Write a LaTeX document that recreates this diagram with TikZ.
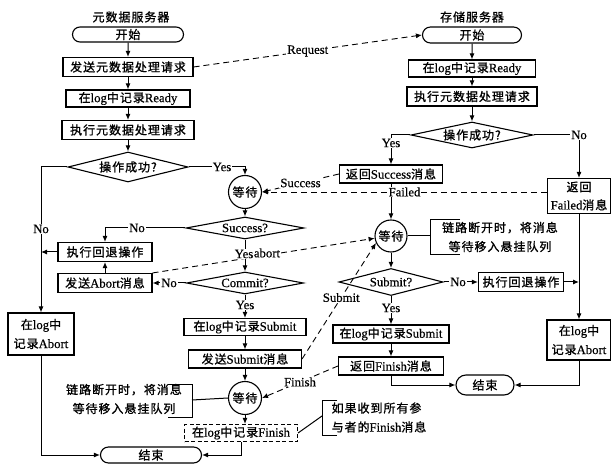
\documentclass[tikz,border=0pt]{standalone}
\usepackage{fontspec}
\setmainfont{Liberation Serif}[Scale=1.06,FakeBold=0.5]
\newfontfamily\cjk[LetterSpace=8,FakeBold=1]{Noto Sans CJK SC}
\newcommand\zh[1]{{\cjk #1}}
\usetikzlibrary{shapes.geometric,shapes.misc,arrows.meta}
\begin{document}
\begin{tikzpicture}[x=1pt,y=-1pt,font=\fontsize{12}{14}\selectfont,
  box/.style={draw,line width=1.1pt,inner sep=1pt,align=center},
  dbox/.style={box,dashed,dash pattern=on 4pt off 2.5pt},
  term/.style={draw,rounded rectangle,line width=1.1pt,inner sep=1pt},
  dia/.style={draw,diamond,line width=1.1pt,inner sep=0pt},
  waitc/.style={draw,circle,line width=1.1pt,inner sep=0pt,minimum size=33pt},
  flow/.style={line width=1pt,-{Latex[length=6pt,width=5pt]}},
  msg/.style={line width=0.9pt,dash pattern=on 6pt off 4pt,-{Latex[length=6pt,width=5pt]}},
  plain/.style={line width=1pt},
  lbl/.style={fill=white,inner sep=1pt},
  note/.style={align=center,font=\fontsize{12}{19}\selectfont}]
\useasboundingbox (0,0) rectangle (611,465);
\fill[white] (0,0) rectangle (611,465);

% ---------- left column: metadata server ----------
\node (tL) at (131,17) {\zh{元数据服务器}};
\node[term,minimum width=113pt,minimum height=15pt] (startL) at (128,34.5) {\zh{开始}};
\node[box,minimum width=130pt,minimum height=19pt] (sendL) at (128,67) {\zh{发送元数据处理请求}};
\node[box,minimum width=124pt,minimum height=17pt] (readyL) at (128,98.5) {\zh{在}log\zh{中记录}Ready};
\node[box,minimum width=132pt,minimum height=19pt] (execL) at (128,130) {\zh{执行元数据处理请求}};
\node[dia,minimum width=120pt,minimum height=30pt,aspect=4] (opL) at (128,167) {\zh{操作成功?}};
\node[waitc] (waitL1) at (245,192) {\zh{等待}};
\node[dia,minimum width=118pt,minimum height=22pt,aspect=5.4] (succQ) at (245,228) {Success?};
\node[box,minimum width=94pt,minimum height=19pt] (rollL) at (105,252) {\zh{执行回退操作}};
\node[dia,minimum width=117pt,minimum height=22pt,aspect=5.3] (commitQ) at (245,283) {Commit?};
\node[box,minimum width=94pt,minimum height=19pt] (abortL) at (105,283) {\zh{发送}Abort\zh{消息}};
\node[box,minimum width=66pt,minimum height=42pt,font=\fontsize{12}{19}\selectfont] (logAbortL) at (41,334) {\zh{在}log\zh{中}\\\zh{记录}Abort};
\node[box,minimum width=122pt,minimum height=17pt] (logSubL) at (245,327) {\zh{在}log\zh{中记录}Submit};
\node[box,minimum width=113pt,minimum height=18pt] (sendSubL) at (245,359) {\zh{发送}Submit\zh{消息}};
\node[waitc] (waitL2) at (245,398) {\zh{等待}};
\node[dbox,minimum width=113pt,minimum height=17pt] (finL) at (241,433) {\zh{在}log\zh{中记录}Finish};
\node[term,minimum width=103pt,minimum height=16pt] (endL) at (151,455) {\zh{结束}};

% ---------- right column: storage server ----------
\node (tR) at (472,17) {\zh{存储服务器}};
\node[term,minimum width=101pt,minimum height=16pt] (startR) at (472,35) {\zh{开始}};
\node[box,minimum width=127pt,minimum height=17pt] (readyR) at (472,68.5) {\zh{在}log\zh{中记录}Ready};
\node[box,minimum width=130pt,minimum height=19pt] (execR) at (472,96.5) {\zh{执行元数据处理请求}};
\node[dia,minimum width=122pt,minimum height=26pt,aspect=4.7] (opR) at (472,135) {\zh{操作成功?}};
\node[box,minimum width=103pt,minimum height=18pt] (succR) at (391,174) {\zh{返回}Success\zh{消息}};
\node[box,minimum width=63pt,minimum height=35pt,font=\fontsize{12}{18}\selectfont] (failR) at (579,196) {\zh{返回}\\Failed\zh{消息}};
\node[waitc,minimum size=32pt] (waitR) at (391,236) {\zh{等待}};
\node[dia,minimum width=104pt,minimum height=27pt,aspect=3.9] (subQ) at (391,282) {Submit?};
\node[box,minimum width=85pt,minimum height=19pt] (rollR) at (521,282) {\zh{执行回退操作}};
\node[box,minimum width=64pt,minimum height=40pt,font=\fontsize{12}{19}\selectfont] (logAbortR) at (579,340) {\zh{在}log\zh{中}\\\zh{记录}Abort};
\node[box,minimum width=116pt,minimum height=18pt] (logSubR) at (391,334) {\zh{在}log\zh{中记录}Submit};
\node[box,minimum width=105pt,minimum height=18pt] (finR) at (391,366) {\zh{返回}Finish\zh{消息}};
\node[term,minimum width=60pt,minimum height=20pt] (endR) at (485,385) {\zh{结束}};

% ---------- notes ----------
\node[note] (noteL) at (124,399) {\zh{链路断开时，将消息}\\\zh{等待移入悬挂队列}};
\coordinate (noteLbr) at (192,400);
\draw[plain] (168,384) -- (192,384) -- (192,417) -- (168,417);
\draw[plain] (noteLbr) -- (waitL2.west);

\node[note] (noteR) at (500,237) {\zh{链路断开时，将消息}\\\zh{等待移入悬挂队列}};
\coordinate (noteRbr) at (430,236);
\draw[plain] (460,220) -- (430,220) -- (430,255) -- (460,255);
\draw[plain] (waitR.east) -- (noteRbr);

\node[note,align=left] (noteF) at (379,417.5) {\zh{如果收到所有参}\\\zh{与者的}Finish\zh{消息}};
\coordinate (noteFbr) at (322,416);
\draw[plain] (337,400) -- (322,400) -- (322,435) -- (337,435);
\draw[plain] (finL.east) -- (noteFbr);

% ---------- left flow ----------
\draw[flow] (startL) -- (sendL);
\draw[flow] (sendL) -- (readyL);
\draw[flow] (readyL) -- (execL);
\draw[flow] (execL) -- (opL);
\draw[flow] (opL.east) -| (waitL1.north);
\node[lbl] at (222,167) {Yes};
\draw[flow] (waitL1) -- (succQ);
\draw[flow] (succQ.west) -| (rollL.north);
\node[lbl] at (137,228) {No};
\draw[flow] (succQ) -- (commitQ);
\draw[flow] (commitQ.west) -- (abortL.east);
\node[lbl] at (169,283) {No};
\draw[flow] (abortL) -- (rollL);
\draw[flow] (rollL.west) -- (rollL.west -| logAbortL.north);
\draw[flow] (opL.west) -| (logAbortL.north);
\node[lbl] at (41,229) {No};
\draw[flow] (logAbortL.south) |- (endL.west);
\draw[flow] (commitQ) -- (logSubL);
\node[lbl] at (245,305) {Yes};
\draw[flow] (logSubL) -- (sendSubL);
\draw[flow] (sendSubL) -- (waitL2);
\draw[flow] (waitL2.south) -- (waitL2.south |- finL.north);
\draw[plain,-{Latex[length=6pt,width=5pt]}] (finL.south) |- (endL.east);

% ---------- right flow ----------
\draw[flow] (startR) -- (readyR);
\draw[flow] (readyR) -- (execR);
\draw[flow] (execR) -- (opR);
\draw[flow] (opR.west) -| (succR.north);
\node[lbl] at (391,143) {Yes};
\draw[flow] (opR.east) -| (failR.north);
\node[lbl] at (579,135) {No};
\draw[flow] (succR) -- (waitR);
\draw[flow] (waitR) -- (subQ);
\draw[flow] (subQ.east) -- (rollR.west);
\node[lbl] at (458,282) {No};
\draw[flow] (rollR.east) -- (rollR.east -| failR.south);
\draw[flow] (failR.south) -- (logAbortR.north);
\draw[flow] (logAbortR.south) |- (endR.east);
\draw[flow] (subQ) -- (logSubR);
\node[lbl] at (391,308) {Yes};
\draw[flow] (logSubR) -- (finR);
\draw[flow] (finR.south) |- (endR.west);

% ---------- messages ----------
\draw[msg] (sendL.east) -- node[lbl,pos=0.5] {Request} (startR.west);
\draw[msg] (succR.west) -- node[lbl,pos=0.5] {Success} (waitL1.east);
\draw[msg] (failR.west |- waitL1.east) -- node[lbl,pos=0.5] {Failed} (waitL1.east);
\draw[msg] (abortL.north east) -- (waitR.188);
\node[lbl] at (244,254) {Yes};
\node[lbl,inner sep=0.5pt] at (267,253) {abort};
\draw[msg] (sendSubL.east) -- node[lbl,pos=0.53] {Submit} (waitR.205);
\draw[msg] (finR.west) -- node[lbl,pos=0.5] {Finish} (waitL2.east);
\end{tikzpicture}
\end{document}
